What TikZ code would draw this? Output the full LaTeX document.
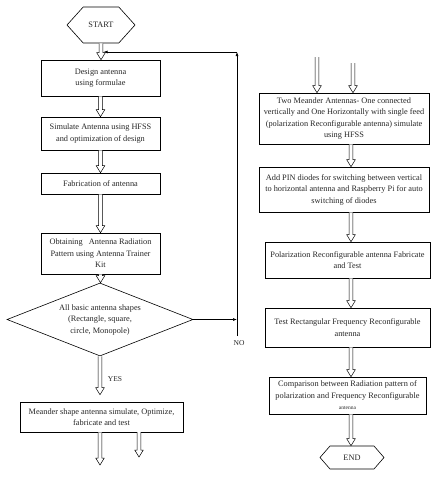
\documentclass[tikz,border=0pt]{standalone}
\usepackage{fontspec}
\setmainfont{Liberation Serif}
\usetikzlibrary{shapes.geometric,shapes.symbols,arrows.meta,calc}
\tikzset{
  box/.style={draw, rectangle, align=center, inner sep=0pt, line width=0.6pt,
    font=\fontsize{8.3}{11.5}\selectfont, text=black!85},
  hexa/.style={draw, signal, signal to=east and west, signal pointer angle=96,
    inner sep=0pt, line width=0.6pt, font=\fontsize{8.3}{10}\selectfont, text=black!85},
  dia/.style={draw, diamond, aspect=2.5, inner sep=0pt, align=center, line width=0.6pt,
    font=\fontsize{8.3}{11.5}\selectfont, text=black!85},
  lbl/.style={font=\fontsize{7.5}{9}\selectfont, text=black!85, inner sep=0pt},
  harrow/.style={draw, fill=white, line width=0.5pt,
    to path={let \p1=(\tikztostart), \p2=(\tikztotarget) in
      (\x1-1.9pt,\y1) -- (\x1-1.9pt,\y2+7pt) -- (\x1-4.3pt,\y2+7pt) -- (\x1,\y2)
      -- (\x1+4.3pt,\y2+7pt) -- (\x1+1.9pt,\y2+7pt) -- (\x1+1.9pt,\y1)}},
  fb/.style={draw, line width=0.6pt},
  fbtip/.style={fb, -{Latex[length=4pt,width=3pt]}}
}
\begin{document}
\begin{tikzpicture}[x=1pt,y=-1pt]
\useasboundingbox (0,0) rectangle (445,480);
% left column
\node[hexa, minimum width=68, minimum height=36] (start) at (101,25) {START};
\node[box, minimum width=119, minimum height=36] (design) at (100.5,78) {Design antenna\\using formulae};
\node[box, minimum width=119, minimum height=33] (sim) at (100.5,133.5) {Simulate Antenna using HFSS\\and optimization of design};
\node[box, minimum width=119, minimum height=21] (fab) at (100.5,183.5) {Fabrication of antenna};
\node[box, minimum width=119, minimum height=41] (obt) at (100.5,253.5) {Obtaining\enspace\ Antenna Radiation\\Pattern using Antenna Trainer\\Kit};
\node[dia, minimum width=186, minimum height=73] (shapes) at (100,319.5) {All basic antenna shapes\\(Rectangle, square,\\circle, Monopole)};
\node[box, minimum width=163, minimum height=30] (meander) at (101.5,417) {Meander shape antenna simulate, Optimize,\\fabricate and test};
\node[lbl] (yes) at (115,379) {YES};
\node[lbl] (no) at (239,343) {NO};
% right column
\node[box, minimum width=170, minimum height=51] (two) at (344,118.5) {Two Meander Antennas- One connected\\vertically and One Horizontally with single feed\\(polarization Reconfigurable antenna) simulate\\using HFSS};
\node[box, minimum width=170, minimum height=45] (pin) at (344,189.5) {Add PIN diodes for switching between vertical\\to horizontal antenna and Raspberry Pi for auto\\switching of diodes};
\node[box, minimum width=165, minimum height=36] (pol) at (347.5,260) {Polarization Reconfigurable antenna Fabricate\\and Test};
\node[box, minimum width=165, minimum height=39] (rect) at (347.5,327.5) {Test Rectangular Frequency Reconfigurable\\antenna};
\node[box, minimum width=157, minimum height=37] (comp) at (347.5,395.5) {Comparison between Radiation pattern of\\polarization and Frequency Reconfigurable\\{\fontsize{5.5}{6}\selectfont antenna}};
\node[hexa, minimum width=64, minimum height=23, signal pointer angle=98] (end) at (352,457.5) {END};
% coordinates
\coordinate (in1) at (317,57);
\coordinate (in2) at (353,63);
\coordinate (out1) at (100,465);
\coordinate (out2s) at (139,432);
\coordinate (out2) at (139,457);
\coordinate (nobot) at (237,336);
\coordinate (nomid) at (237,319.5);
\coordinate (notop) at (237,52);
\coordinate (noend) at (103.5,52);
% hollow arrows left
\draw[harrow] (start.south) to (start.south |- design.north);
\draw[harrow] (design.south) to (design.south |- sim.north);
\draw[harrow] (sim.south) to (sim.south |- fab.north);
\draw[harrow] (fab.south) to (fab.south |- obt.north);
\draw[harrow] (obt.south) to (obt.south |- shapes.north);
\draw[harrow] (shapes.south) to ($(shapes.south |- meander.north)+(0,-7)$);
\draw[harrow] (meander.south -| out1) to (out1);
\draw[harrow] (out2s) to (out2);
% hollow arrows right
\draw[harrow] (in1) to (in1 |- two.north);
\draw[harrow] (in2) to (in2 |- two.north);
\coordinate (rx) at (351,0);
\draw[harrow] (two.south -| rx) to (pin.north -| rx);
\draw[harrow] (pin.south -| rx) to (pol.north -| rx);
\draw[harrow] (pol.south -| rx) to (rect.north -| rx);
\draw[harrow] (rect.south -| rx) to (comp.north -| rx);
\draw[harrow] (comp.south -| rx) to (end.north -| rx);
% feedback
\draw[fbtip] (shapes.east) -- (nomid);
\draw[fbtip] (nobot) -- (notop);
\draw[fbtip] (notop) -- (noend);
\end{tikzpicture}
\end{document}
